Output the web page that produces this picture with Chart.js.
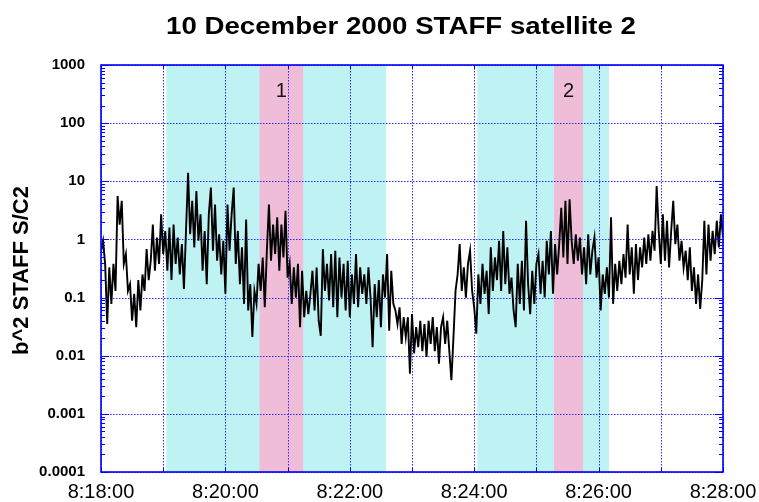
<!DOCTYPE html>
<html><head><meta charset="utf-8">
<script src="https://cdn.jsdelivr.net/npm/chart.js@4.4.1/dist/chart.umd.min.js"></script>
<style>html,body{margin:0;padding:0;background:#fff;} canvas{display:block;}</style>
</head><body>
<canvas id="c" width="759" height="502"></canvas>
<script>
const chartTitle = "10 December 2000 STAFF satellite 2";
const yAxisTitle = "b^2 STAFF S/C2";
// x in seconds after 8:18:00
const xTickSeconds = [0, 60, 120, 180, 240, 300, 360, 420, 480, 540, 600];
const xTickLabels = ["8:18:00", "", "8:20:00", "", "8:22:00", "", "8:24:00", "", "8:26:00", "", "8:28:00"];
const yTickValues = [0.0001, 0.001, 0.01, 0.1, 1, 10, 100, 1000];
const yTickLabels = ["0.0001", "0.001", "0.01", "0.1", "1", "10", "100", "1000"];
const cyanBands = [[63, 275], [363, 490]];
const pinkBands = [[153, 195], [437, 465]];
const bandLabels = ["1", "2"];
const bandLabelValue = 355;

const sampleStep = 2; // seconds between samples
const segmentStarts = [0, 102, 200, 300, 398, 498];
const b2Seg1 = [0.64, 0.95, 0.38, 0.035, 0.33, 0.078, 0.38, 0.13, 5.6, 1.8,
  4.6, 0.38, 0.56, 0.13, 0.17, 0.040, 0.116, 0.031, 0.20, 0.060,
  0.25, 0.13, 0.68, 0.20, 0.43, 1.8, 0.29, 1.08, 0.38, 2.7,
  0.56, 1.4, 0.29, 1.6, 0.20, 1.8, 0.38, 1.08, 0.25, 0.83,
  0.14, 1.4, 14, 1.23, 4.6, 0.73, 6.8, 0.95, 2.7, 0.29,
  1.4];
const b2Seg2 = [0.17, 2.7, 7.8, 0.64, 4.0, 0.43, 1.23, 0.25, 0.95, 0.116,
  4.0, 0.64, 2.7, 7.8, 0.38, 1.4, 0.17, 0.73, 0.078, 2.2,
  0.060, 0.17, 0.021, 0.13, 0.078, 0.38, 0.13, 0.49, 0.068, 0.64,
  4.0, 0.43, 1.8, 0.56, 2.4, 0.29, 1.8, 0.49, 3.1, 0.22,
  0.38, 0.078, 0.33, 0.10, 0.38, 0.031, 0.29, 0.046, 0.13];
const b2Seg3 = [0.052, 0.116, 0.29, 0.060, 0.33, 0.040, 0.022, 0.68, 0.13, 0.38,
  0.089, 0.56, 0.068, 0.64, 0.046, 0.49, 0.10, 0.38, 0.060, 0.43,
  0.046, 0.25, 0.078, 0.56, 0.068, 0.33, 0.116, 0.25, 0.078, 0.33,
  0.10, 0.014, 0.17, 0.046, 0.20, 0.031, 0.25, 0.10, 0.56, 0.027,
  0.29, 0.078, 0.060, 0.035, 0.068, 0.016, 0.046, 0.021, 0.046, 0.0049];
const b2Seg4 = [0.052, 0.011, 0.031, 0.014, 0.040, 0.012, 0.035, 0.0095, 0.040, 0.016,
  0.046, 0.012, 0.031, 0.0073, 0.031, 0.046, 0.016, 0.040, 0.012, 0.0038,
  0.021, 0.13, 0.25, 0.83, 0.13, 0.33, 0.10, 0.38, 0.64, 0.13,
  0.068, 0.024, 0.25, 0.078, 0.38, 0.116, 0.29, 0.052, 0.73, 0.13,
  0.49, 0.20, 0.95, 0.13, 1.4, 0.17, 0.73, 0.116, 0.22];
const b2Seg5 = [0.060, 0.031, 0.38, 0.078, 0.43, 0.060, 2.1, 0.17, 0.052, 0.29,
  0.078, 0.38, 0.56, 0.116, 0.43, 0.10, 0.95, 0.25, 1.4, 0.116,
  0.83, 0.25, 0.83, 3.5, 0.49, 4.6, 0.38, 4.9, 0.95, 0.38,
  1.23, 0.43, 1.08, 0.25, 0.73, 0.17, 1.23, 0.25, 0.64, 1.08,
  0.22, 0.49, 0.060, 0.25, 0.116, 0.33, 0.10, 2.4, 0.078, 0.38];
const b2Seg6 = [0.13, 0.43, 0.17, 0.56, 0.22, 1.8, 0.25, 0.73, 0.116, 0.83,
  0.20, 0.73, 0.33, 1.08, 0.38, 1.23, 0.43, 1.4, 0.64, 8.3,
  1.4, 0.38, 2.7, 0.43, 2.1, 0.33, 1.4, 4.6, 0.83, 1.8,
  0.43, 0.95, 0.33, 0.64, 0.20, 0.73, 0.13, 0.33, 0.078, 0.25,
  0.064, 0.20, 2.1, 0.25, 1.8, 0.43, 1.4, 0.56, 2.1, 0.73,
  2.7, 1.08];

const segments = [b2Seg1, b2Seg2, b2Seg3, b2Seg4, b2Seg5, b2Seg6];
const points = [];
segments.forEach((seg, s) => seg.forEach((v, i) => points.push({x: segmentStarts[s] + i * sampleStep, y: v})));

const FONT = "'Liberation Sans', Arial, Helvetica, sans-serif";
const BLUE = '#0000ff';
const GRID_BLUE = '#2b2bff';

const decorPlugin = {
  id: 'decor',
  beforeDraw(chart) {
    const {ctx, chartArea: a, scales: {x}} = chart;
    ctx.save();
    ctx.fillStyle = '#fff';
    ctx.fillRect(0, 0, chart.width, chart.height);
    ctx.fillStyle = '#bff2f3';
    cyanBands.forEach(([s, e]) => {
      const x1 = x.getPixelForValue(s), x2 = x.getPixelForValue(e);
      ctx.fillRect(x1, a.top, x2 - x1, a.bottom - a.top);
    });
    ctx.fillStyle = '#f0bdd9';
    pinkBands.forEach(([s, e]) => {
      const x1 = x.getPixelForValue(s), x2 = x.getPixelForValue(e);
      ctx.fillRect(x1, a.top, x2 - x1, a.bottom - a.top);
    });
    ctx.restore();
  },
  beforeDatasetsDraw(chart) {
    const {ctx, chartArea: a, scales: {x, y}} = chart;
    ctx.save();
    ctx.strokeStyle = GRID_BLUE;
    ctx.lineWidth = 1;
    ctx.setLineDash([1.5, 1.5]);
    ctx.beginPath();
    yTickValues.forEach(v => {
      const py = Math.round(y.getPixelForValue(v)) + 0.5;
      ctx.moveTo(a.left, py); ctx.lineTo(a.right, py);
    });
    xTickSeconds.forEach(s => {
      const px = Math.round(x.getPixelForValue(s)) + 0.5;
      ctx.moveTo(px, a.top); ctx.lineTo(px, a.bottom);
    });
    ctx.stroke();
    ctx.restore();
  },
  afterDraw(chart) {
    const {ctx, chartArea: a, scales: {x, y}} = chart;
    ctx.save();
    // band labels
    ctx.fillStyle = '#111';
    ctx.font = '20px ' + FONT;
    ctx.textAlign = 'center';
    ctx.textBaseline = 'middle';
    pinkBands.forEach(([s, e], i) => {
      ctx.fillText(bandLabels[i], x.getPixelForValue((s + e) / 2), y.getPixelForValue(bandLabelValue));
    });
    // minor ticks on left and right axes
    ctx.strokeStyle = BLUE;
    ctx.lineWidth = 1;
    ctx.beginPath();
    for (let d = 0; d < yTickValues.length; d++) {
      const base = yTickValues[d];
      const py = Math.round(y.getPixelForValue(base)) + 0.5;
      ctx.moveTo(a.left, py); ctx.lineTo(a.left + 8, py);
      ctx.moveTo(a.right, py); ctx.lineTo(a.right - 8, py);
      if (d === yTickValues.length - 1) break;
      for (let m = 2; m <= 9; m++) {
        const pm = Math.round(y.getPixelForValue(base * m)) + 0.5;
        ctx.moveTo(a.left, pm); ctx.lineTo(a.left + 4, pm);
        ctx.moveTo(a.right, pm); ctx.lineTo(a.right - 4, pm);
      }
    }
    xTickSeconds.forEach(s => {
      const px = Math.round(x.getPixelForValue(s)) + 0.5;
      ctx.moveTo(px, a.bottom); ctx.lineTo(px, a.bottom - 4);
      ctx.moveTo(px, a.top); ctx.lineTo(px, a.top + 4);
    });
    ctx.stroke();
    // frame
    ctx.lineWidth = 1.6;
    ctx.strokeRect(a.left, a.top, a.right - a.left, a.bottom - a.top);
    // title (stretched horizontally like the reference)
    ctx.fillStyle = '#000';
    ctx.font = 'bold 23px ' + FONT;
    ctx.textAlign = 'center';
    ctx.textBaseline = 'middle';
    const tw = ctx.measureText(chartTitle).width;
    ctx.save();
    ctx.translate(401, 28);
    ctx.scale(470 / tw, 1);
    ctx.fillText(chartTitle, 0, 0);
    ctx.restore();
    // y axis title
    ctx.translate(22, (a.top + a.bottom) / 2 + 2);
    ctx.rotate(-Math.PI / 2);
    ctx.font = 'bold 22px ' + FONT;
    ctx.fillText(yAxisTitle, 0, 0);
    ctx.restore();
  }
};

new Chart(document.getElementById('c'), {
  type: 'line',
  data: {
    datasets: [{
      data: points,
      borderColor: '#000',
      borderWidth: 1.9,
      pointRadius: 0,
      tension: 0,
      fill: false
    }]
  },
  options: {
    responsive: false,
    animation: false,
    devicePixelRatio: 1,
    layout: {padding: {left: 0, right: 36, top: 65, bottom: 0}},
    plugins: {legend: {display: false}, tooltip: {enabled: false}, title: {display: false}},
    scales: {
      x: {
        type: 'linear',
        min: 0, max: 600,
        afterBuildTicks: s => { s.ticks = xTickSeconds.map(v => ({value: v})); },
        afterFit: s => { s.height = 30; s.paddingLeft = 0; s.paddingRight = 0; },
        ticks: {
          autoSkip: false, maxRotation: 0, padding: 8, color: '#000',
          font: {family: FONT, size: 20},
          callback: (v, i) => xTickLabels[i]
        },
        grid: {display: false, drawTicks: false},
        border: {display: false}
      },
      y: {
        type: 'logarithmic',
        min: 0.0001, max: 1000,
        afterBuildTicks: s => { s.ticks = yTickValues.map(v => ({value: v})); },
        afterFit: s => { s.width = 101; s.paddingTop = 0; s.paddingBottom = 0; },
        ticks: {
          autoSkip: false, padding: 16, color: '#000',
          font: {family: FONT, size: 15, weight: 'bold'},
          callback: (v, i) => yTickLabels[i]
        },
        grid: {display: false, drawTicks: false},
        border: {display: false}
      }
    }
  },
  plugins: [decorPlugin]
});
</script>
</body></html>
